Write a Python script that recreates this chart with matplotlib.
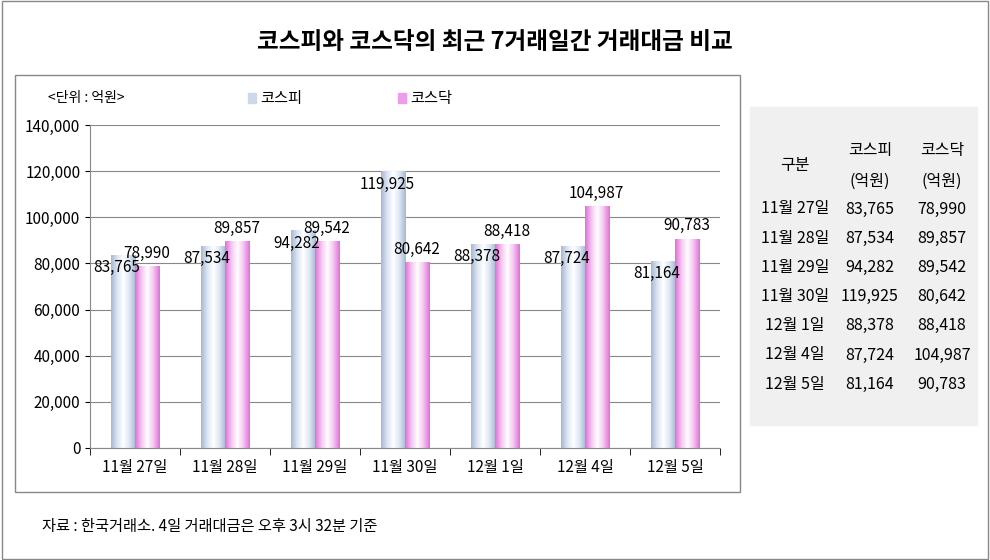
import numpy as np
import matplotlib.pyplot as plt
from matplotlib.patches import Rectangle

plt.rcParams["font.family"] = ["Noto Sans CJK JP", "Noto Sans CJK KR", "Noto Sans CJK SC", "DejaVu Sans"]

dates = ["11월 27일", "11월 28일", "11월 29일", "11월 30일", "12월 1일", "12월 4일", "12월 5일"]
kospi = [83765, 87534, 94282, 119925, 88378, 87724, 81164]
kosdaq = [78990, 89857, 89542, 80642, 88418, 104987, 90783]


def grad_bar(ax, x, w, h, c_edge, c_mid):
    bar = ax.bar(x, h, w, color="none", edgecolor="none", zorder=2)[0]
    cmap = plt.matplotlib.colors.LinearSegmentedColormap.from_list("g", [c_edge, c_mid, "white", c_mid, c_edge])
    im = ax.imshow(np.linspace(0, 1, 64)[None, :], cmap=cmap, aspect="auto",
                   extent=[x - w / 2, x + w / 2, 0, h], zorder=2)
    im.set_clip_path(bar)


def main():
    fig = plt.figure(figsize=(9.9, 5.6), dpi=100)
    fig.patches.append(Rectangle((0.002, 0.002), 0.996, 0.996, transform=fig.transFigure,
                                 fill=False, edgecolor="#888888", lw=1))
    fig.text(0.5, 0.925, "코스피와 코스닥의 최근 7거래일간 거래대금 비교",
             ha="center", va="center", fontsize=17, fontweight="bold")
    fig.patches.append(Rectangle((15 / 990, 1 - 492 / 560), 725 / 990, 417 / 560,
                                 transform=fig.transFigure, fill=False, edgecolor="#888888", lw=1))

    ax = fig.add_axes([90 / 990, 1 - 448 / 560, 630 / 990, 323 / 560])
    x = np.arange(len(dates))
    w = 0.27
    for i in x:
        grad_bar(ax, i - w / 2, w, kospi[i], "#a8b8d0", "#dce6f4")
        grad_bar(ax, i + w / 2, w, kosdaq[i], "#e070d8", "#f4c4f0")
        ax.text(i - 0.2, kospi[i] - 5500, f"{kospi[i]:,}", ha="center", va="center", fontsize=11, zorder=3)
        ax.text(i + 0.13, kosdaq[i] + 5500, f"{kosdaq[i]:,}", ha="center", va="center", fontsize=11, zorder=3)
    ax.set_xlim(-0.5, 6.5)
    ax.set_ylim(0, 140000)
    ax.set_yticks(range(0, 140001, 20000))
    ax.set_yticklabels([f"{v:,}" for v in range(0, 140001, 20000)], fontsize=11)
    ax.set_xticks(x)
    ax.set_xticklabels(dates, fontsize=11)
    ax.set_xticks(np.arange(-0.5, 7, 1), minor=True)
    ax.tick_params(axis="x", which="major", length=0, pad=8)
    ax.tick_params(axis="x", which="minor", length=5)
    ax.grid(axis="y", color="#888888", lw=0.8, zorder=0)
    for s in ["top", "right"]:
        ax.spines[s].set_visible(False)
    ax.spines["left"].set_color("#888888")
    ax.spines["bottom"].set_color("#888888")

    fig.text(48 / 990, 1 - 98 / 560, "<단위 : 억원>", fontsize=10, va="center")
    fig.patches.append(Rectangle((248 / 990, 1 - 103 / 560), 8 / 990, 10 / 560,
                                 transform=fig.transFigure, color="#cdd8ea"))
    fig.text(260 / 990, 1 - 98 / 560, "코스피", fontsize=11, va="center")
    fig.patches.append(Rectangle((398 / 990, 1 - 103 / 560), 8 / 990, 10 / 560,
                                 transform=fig.transFigure, color="#ee9ee8"))
    fig.text(410 / 990, 1 - 98 / 560, "코스닥", fontsize=11, va="center")

    # table
    fig.patches.append(Rectangle((750 / 990, 1 - 425 / 560), 227 / 990, 318 / 560,
                                 transform=fig.transFigure, color="#f0f0f0"))
    cols = [795, 870, 942]
    fig.text(cols[0] / 990, 1 - 165 / 560, "구분", ha="center", va="center", fontsize=11.5)
    for c, t in zip(cols[1:], ["코스피", "코스닥"]):
        fig.text(c / 990, 1 - 151 / 560, t, ha="center", va="center", fontsize=11.5)
        fig.text(c / 990, 1 - 181 / 560, "(억원)", ha="center", va="center", fontsize=11.5)
    for r, d in enumerate(dates):
        y = 1 - (209 + r * 29.2) / 560
        fig.text(cols[0] / 990, y, d, ha="center", va="center", fontsize=11.5)
        fig.text(cols[1] / 990, y, f"{kospi[r]:,}", ha="center", va="center", fontsize=11.5)
        fig.text(cols[2] / 990, y, f"{kosdaq[r]:,}", ha="center", va="center", fontsize=11.5)

    fig.text(42 / 990, 1 - 527 / 560, "자료 : 한국거래소. 4일 거래대금은 오후 3시 32분 기준",
             fontsize=11, va="center")
    fig.savefig("out.png", dpi=100)


if __name__ == "__main__":
    main()
